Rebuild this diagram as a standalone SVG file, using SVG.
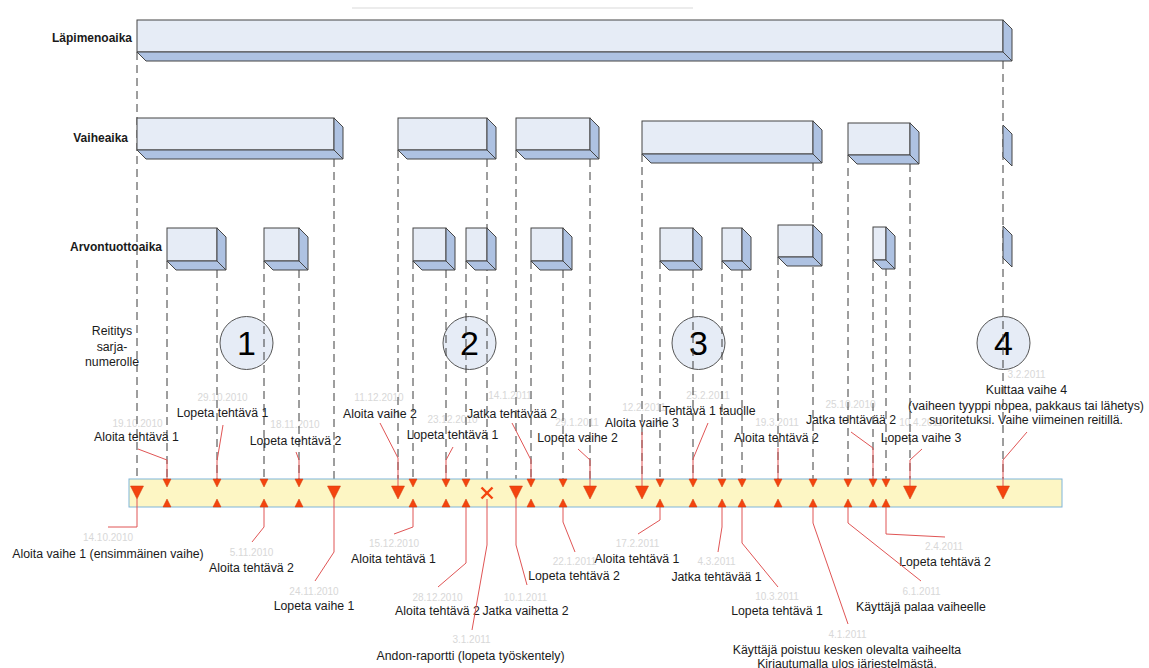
<svg xmlns="http://www.w3.org/2000/svg" width="1149" height="668" viewBox="0 0 1149 668">
  <style>
    text { font-family: "Liberation Sans", Arial, sans-serif; }
    .row { font-size: 12px; font-weight: bold; fill: #1a1a1a; text-anchor: end; }
    .lbl { font-size: 12.3px; fill: #1a1a1a; text-anchor: middle; }
    .dt { font-size: 10px; fill: #d8d8d8; text-anchor: middle; }
    .num { font-size: 34px; fill: #000; text-anchor: middle; }
    .front { fill: #e6ecf6; stroke: #454545; stroke-width: 1; }
    .shade { fill: #aec2e2; stroke: #454545; stroke-width: 1; stroke-linejoin: round; }
    .circ { fill: #e6ecf6; stroke: #555; stroke-width: 1; }
    .dash { stroke: #3c3c3c; stroke-width: 1; stroke-dasharray: 8 5; fill: none; }
    .lead { stroke: #e05555; stroke-width: 1; fill: none; }
    .mk { fill: #f4440f; stroke: #d03505; stroke-width: 0.5; }
    .x { stroke: #f4440f; stroke-width: 2.4; fill: none; }
  </style>

  <!-- thin rule at the top -->
  <line x1="352" y1="8" x2="693" y2="8" stroke="#e6e6e6" stroke-width="1.5"/>

  <!-- row titles -->
  <g id="row-titles">
    <text class="row" x="132" y="41.5">Läpimenoaika</text>
    <text class="row" x="128" y="141.5">Vaiheaika</text>
    <text class="row" x="162" y="250.5">Arvontuottoaika</text>
    <text class="lbl" x="112" y="335">Reititys</text>
    <text class="lbl" x="112" y="351">sarja-</text>
    <text class="lbl" x="112" y="366">numerolle</text>
  </g>

  <!-- phase circles -->
  <g id="phase-1"><circle class="circ" cx="246.5" cy="343" r="26.5"/><text class="num" x="246.5" y="354.5">1</text></g>
  <g id="phase-2"><circle class="circ" cx="469.5" cy="343" r="26.5"/><text class="num" x="469.5" y="354.5">2</text></g>
  <g id="phase-3"><circle class="circ" cx="698.5" cy="343" r="26.5"/><text class="num" x="698.5" y="354.5">3</text></g>
  <g id="phase-4"><circle class="circ" cx="1003.5" cy="343" r="26.5"/><text class="num" x="1003.5" y="354.5">4</text></g>

  <!-- event labels and dates -->
  <g id="event-labels">
    <!-- above the timeline -->
    <text class="dt" x="137.5" y="426.5">19.10.2010</text>
    <text class="lbl" x="136.5" y="441">Aloita tehtävä 1</text>
    <text class="dt" x="222.5" y="400.5">29.10.2010</text>
    <text class="lbl" x="222.5" y="416.5">Lopeta tehtävä 1</text>
    <text class="dt" x="295" y="427.5">18.11.2010</text>
    <text class="lbl" x="295.5" y="444.5">Lopeta tehtävä 2</text>
    <text class="dt" x="379" y="400.5">11.12.2010</text>
    <text class="lbl" x="380" y="417.5">Aloita vaihe 2</text>
    <text class="dt" x="452.5" y="422.5">23.12.2010</text>
    <text class="lbl" x="452.5" y="438.5">Lopeta tehtävä 1</text>
    <text class="dt" x="510" y="398.5">14.1.2011</text>
    <text class="lbl" x="512" y="417.5">Jatka tehtävää 2</text>
    <text class="dt" x="577" y="425.5">29.1.2011</text>
    <text class="lbl" x="577.5" y="441.5">Lopeta vaihe 2</text>
    <text class="dt" x="644" y="410.5">12.2.2011</text>
    <text class="lbl" x="642" y="426.5">Aloita vaihe 3</text>
    <text class="dt" x="708" y="398.5">25.2.2011</text>
    <text class="lbl" x="709" y="414.5">Tehtävä 1 tauolle</text>
    <text class="dt" x="777" y="425.5">19.3.2011</text>
    <text class="lbl" x="776.5" y="441.5">Aloita tehtävä 2</text>
    <text class="dt" x="850.5" y="407.5">25.10.2010</text>
    <text class="lbl" x="851" y="423.5">Jatka tehtävää 2</text>
    <text class="dt" x="921" y="425.5">10.4.2011</text>
    <text class="lbl" x="921" y="441.5">Lopeta vaihe 3</text>
    <text class="dt" x="1026.5" y="377.5">3.2.2011</text>
    <text class="lbl" x="1026.5" y="393.5">Kuittaa vaihe 4</text>
    <text class="lbl" x="1026" y="409.5">(vaiheen tyyppi nopea, pakkaus tai lähetys)</text>
    <text class="lbl" x="1026" y="423.5">suoritetuksi. Vaihe viimeinen reitillä.</text>
    <!-- below the timeline -->
    <text class="dt" x="108" y="540.5">14.10.2010</text>
    <text class="lbl" x="108" y="557.5">Aloita vaihe 1 (ensimmäinen vaihe)</text>
    <text class="dt" x="251.5" y="555.5">5.11.2010</text>
    <text class="lbl" x="251.5" y="571.5">Aloita tehtävä 2</text>
    <text class="dt" x="314" y="594.5">24.11.2010</text>
    <text class="lbl" x="314" y="609.5">Lopeta vaihe 1</text>
    <text class="dt" x="394" y="546.5">15.12.2010</text>
    <text class="lbl" x="393.5" y="562.5">Aloita tehtävä 1</text>
    <text class="dt" x="437.5" y="600.5">28.12.2010</text>
    <text class="lbl" x="437.5" y="614.5">Aloita tehtävä 2</text>
    <text class="dt" x="471.5" y="642.5">3.1.2011</text>
    <text class="lbl" x="470.5" y="659.5">Andon-raportti (lopeta työskentely)</text>
    <text class="dt" x="525.5" y="600.5">10.1.2011</text>
    <text class="lbl" x="525.5" y="614.5">Jatka vaihetta 2</text>
    <text class="dt" x="574.5" y="564.5">22.1.2011</text>
    <text class="lbl" x="574" y="579.5">Lopeta tehtävä 2</text>
    <text class="dt" x="637.5" y="546.5">17.2.2011</text>
    <text class="lbl" x="637" y="562.5">Aloita tehtävä 1</text>
    <text class="dt" x="716.5" y="564.5">4.3.2011</text>
    <text class="lbl" x="716.5" y="580.5">Jatka tehtävää 1</text>
    <text class="dt" x="777" y="599.5">10.3.2011</text>
    <text class="lbl" x="777" y="614.5">Lopeta tehtävä 1</text>
    <text class="dt" x="847.5" y="637.5">4.1.2011</text>
    <text class="lbl" x="847" y="653.5">Käyttäjä poistuu kesken olevalta vaiheelta</text>
    <text class="lbl" x="847" y="668">Kirjautumalla ulos järjestelmästä.</text>
    <text class="dt" x="921.5" y="594.5">6.1.2011</text>
    <text class="lbl" x="921" y="610.5">Käyttäjä palaa vaiheelle</text>
    <text class="dt" x="944" y="549.5">2.4.2011</text>
    <text class="lbl" x="945" y="565.5">Lopeta tehtävä 2</text>
  </g>

  <!-- connectors: dashed drop lines from the bars to the timeline -->
  <g id="connectors">
    <g class="dash">
      <line x1="137" y1="52" x2="137" y2="486"/>
      <line x1="1003" y1="61" x2="1003" y2="486"/>
      <line x1="334" y1="159" x2="334" y2="486"/>
      <line x1="398" y1="150" x2="398" y2="486"/>
      <line x1="487" y1="159" x2="487" y2="479"/>
      <line x1="516" y1="150" x2="516" y2="486"/>
      <line x1="590" y1="159" x2="590" y2="486"/>
      <line x1="642" y1="154" x2="642" y2="486"/>
      <line x1="813" y1="163" x2="813" y2="479"/>
      <line x1="848" y1="155" x2="848" y2="479"/>
      <line x1="910" y1="164" x2="910" y2="486"/>
      <line x1="167" y1="261" x2="167" y2="479"/>
      <line x1="217" y1="270" x2="217" y2="479"/>
      <line x1="264" y1="261" x2="264" y2="479"/>
      <line x1="299" y1="270" x2="299" y2="479"/>
      <line x1="413" y1="261" x2="413" y2="479"/>
      <line x1="446" y1="270" x2="446" y2="479"/>
      <line x1="466" y1="261" x2="466" y2="479"/>
      <line x1="531" y1="261" x2="531" y2="479"/>
      <line x1="563" y1="270" x2="563" y2="479"/>
      <line x1="660" y1="261" x2="660" y2="479"/>
      <line x1="693" y1="270" x2="693" y2="479"/>
      <line x1="722" y1="261" x2="722" y2="479"/>
      <line x1="742" y1="270" x2="742" y2="479"/>
      <line x1="778" y1="257" x2="778" y2="479"/>
      <line x1="873" y1="260" x2="873" y2="479"/>
      <line x1="886" y1="268" x2="886" y2="479"/>
    </g>
  </g>

  <!-- throughput bar -->
  <g id="lapimenoaika">
    <rect class="front" x="137" y="20" width="866" height="32"/>
    <polygon class="shade" points="137,52 1003,52 1012,61 146,61"/>
    <polygon class="shade" points="1003,20 1012,29 1012,61 1003,52"/>
  </g>

  <!-- phase bars -->
  <g id="vaihe-1">
    <rect class="front" x="137" y="118" width="197" height="32"/>
    <polygon class="shade" points="137,150 334,150 343,159 146,159"/>
    <polygon class="shade" points="334,118 343,127 343,159 334,150"/>
  </g>
  <g id="vaihe-2">
    <rect class="front" x="398" y="118" width="89" height="32"/>
    <polygon class="shade" points="398,150 487,150 496,159 407,159"/>
    <polygon class="shade" points="487,118 496,127 496,159 487,150"/>
  </g>
  <g id="vaihe-2b">
    <rect class="front" x="516" y="118" width="74" height="32"/>
    <polygon class="shade" points="516,150 590,150 599,159 525,159"/>
    <polygon class="shade" points="590,118 599,127 599,159 590,150"/>
  </g>
  <g id="vaihe-3">
    <rect class="front" x="642" y="121" width="171" height="33"/>
    <polygon class="shade" points="642,154 813,154 822,163 651,163"/>
    <polygon class="shade" points="813,121 822,130 822,163 813,154"/>
  </g>
  <g id="vaihe-3b">
    <rect class="front" x="848" y="123" width="62" height="32"/>
    <polygon class="shade" points="848,155 910,155 919,164 857,164"/>
    <polygon class="shade" points="910,123 919,132 919,164 910,155"/>
  </g>
  <g id="vaihe-4">
    <polygon class="shade" points="1003,125 1012,134 1012,166 1003,157"/>
  </g>

  <!-- value-adding task boxes -->
  <g id="tehtava-1a">
    <rect class="front" x="167" y="228" width="50" height="33"/>
    <polygon class="shade" points="167,261 217,261 226,270 176,270"/>
    <polygon class="shade" points="217,228 226,237 226,270 217,261"/>
  </g>
  <g id="tehtava-1b">
    <rect class="front" x="264" y="228" width="35" height="33"/>
    <polygon class="shade" points="264,261 299,261 308,270 273,270"/>
    <polygon class="shade" points="299,228 308,237 308,270 299,261"/>
  </g>
  <g id="tehtava-2a">
    <rect class="front" x="413" y="228" width="33" height="33"/>
    <polygon class="shade" points="413,261 446,261 455,270 422,270"/>
    <polygon class="shade" points="446,228 455,237 455,270 446,261"/>
  </g>
  <g id="tehtava-2b">
    <rect class="front" x="466" y="228" width="21" height="33"/>
    <polygon class="shade" points="466,261 487,261 496,270 475,270"/>
    <polygon class="shade" points="487,228 496,237 496,270 487,261"/>
  </g>
  <g id="tehtava-2c">
    <rect class="front" x="531" y="228" width="32" height="33"/>
    <polygon class="shade" points="531,261 563,261 572,270 540,270"/>
    <polygon class="shade" points="563,228 572,237 572,270 563,261"/>
  </g>
  <g id="tehtava-3a">
    <rect class="front" x="660" y="228" width="33" height="33"/>
    <polygon class="shade" points="660,261 693,261 702,270 669,270"/>
    <polygon class="shade" points="693,228 702,237 702,270 693,261"/>
  </g>
  <g id="tehtava-3b">
    <rect class="front" x="722" y="228" width="20" height="33"/>
    <polygon class="shade" points="722,261 742,261 751,270 731,270"/>
    <polygon class="shade" points="742,228 751,237 751,270 742,261"/>
  </g>
  <g id="tehtava-3c">
    <rect class="front" x="778" y="225" width="35" height="32"/>
    <polygon class="shade" points="778,257 813,257 822,266 787,266"/>
    <polygon class="shade" points="813,225 822,234 822,266 813,257"/>
  </g>
  <g id="tehtava-3d">
    <rect class="front" x="873" y="227" width="13" height="33"/>
    <polygon class="shade" points="873,260 886,260 895,269 882,269"/>
    <polygon class="shade" points="886,227 895,236 895,269 886,260"/>
  </g>
  <g id="tehtava-4">
    <polygon class="shade" points="1003,226 1012,235 1012,267 1003,258"/>
  </g>

  <!-- timeline band -->
  <g id="timeline">
    <rect x="129" y="479" width="933" height="28" fill="#fdf6c4" stroke="#7fb5da" stroke-width="1"/>
  </g>

  <!-- callout leaders -->
  <g id="leaders" class="lead">
    <polyline points="138,449 167,460 167,479"/>
    <polyline points="223,425 217,461 217,479"/>
    <polyline points="296,452 299,460 299,479"/>
    <polyline points="380,423 398,458 398,486"/>
    <polyline points="453,447 446,460 446,479"/>
    <polyline points="512,423 531,460 531,479"/>
    <polyline points="578,449 590,460 590,486"/>
    <polyline points="642,432 642,486"/>
    <polyline points="708,423 693,459 693,479"/>
    <polyline points="778,448 778,479"/>
    <polyline points="851,432 873,448 873,479"/>
    <polyline points="922,449 910,460 910,486"/>
    <polyline points="1027,432 1003,460 1003,486"/>

    <polyline points="137,499 137,527 108,527"/>
    <polyline points="264,507 264,527 252,542"/>
    <polyline points="334,499 334,552 315,581"/>
    <polyline points="413,507 413,527 394,534"/>
    <polyline points="466,507 466,563 438,587"/>
    <polyline points="487,499 487,545 472,630"/>
    <polyline points="516,499 516,545 527,585"/>
    <polyline points="563,507 563,522 575,552"/>
    <polyline points="660,507 660,520 638,534"/>
    <polyline points="722,507 722,527 718,552"/>
    <polyline points="742,507 742,543 778,587"/>
    <polyline points="813,507 813,523 848,624"/>
    <polyline points="848,507 848,523 921,581"/>
    <polyline points="886,507 886,534 945,537"/>
  </g>

  <!-- event markers -->
  <g id="markers" class="mk">
    <!-- phase events -->
    <polygon points="130.5,486 143.5,486 137,499"/>
    <polygon points="327.5,486 340.5,486 334,499"/>
    <polygon points="391.5,486 404.5,486 398,499"/>
    <polygon points="509.5,486 522.5,486 516,499"/>
    <polygon points="583.5,486 596.5,486 590,499"/>
    <polygon points="635.5,486 648.5,486 642,499"/>
    <polygon points="903.5,486 916.5,486 910,499"/>
    <polygon points="996.5,486 1009.5,486 1003,499"/>
    <!-- task events: pairs of small triangles -->
    <polygon points="163,479 171,479 167,487"/><polygon points="163,507 171,507 167,499"/>
    <polygon points="213,479 221,479 217,487"/><polygon points="213,507 221,507 217,499"/>
    <polygon points="260,479 268,479 264,487"/><polygon points="260,507 268,507 264,499"/>
    <polygon points="295,479 303,479 299,487"/><polygon points="295,507 303,507 299,499"/>
    <polygon points="409,479 417,479 413,487"/><polygon points="409,507 417,507 413,499"/>
    <polygon points="442,479 450,479 446,487"/><polygon points="442,507 450,507 446,499"/>
    <polygon points="462,479 470,479 466,487"/><polygon points="462,507 470,507 466,499"/>
    <polygon points="527,479 535,479 531,487"/><polygon points="527,507 535,507 531,499"/>
    <polygon points="559,479 567,479 563,487"/><polygon points="559,507 567,507 563,499"/>
    <polygon points="656,479 664,479 660,487"/><polygon points="656,507 664,507 660,499"/>
    <polygon points="689,479 697,479 693,487"/><polygon points="689,507 697,507 693,499"/>
    <polygon points="718,479 726,479 722,487"/><polygon points="718,507 726,507 722,499"/>
    <polygon points="738,479 746,479 742,487"/><polygon points="738,507 746,507 742,499"/>
    <polygon points="774,479 782,479 778,487"/><polygon points="774,507 782,507 778,499"/>
    <polygon points="809,479 817,479 813,487"/><polygon points="809,507 817,507 813,499"/>
    <polygon points="844,479 852,479 848,487"/><polygon points="844,507 852,507 848,499"/>
    <polygon points="869,479 877,479 873,487"/><polygon points="869,507 877,507 873,499"/>
    <polygon points="882,479 890,479 886,487"/><polygon points="882,507 890,507 886,499"/>
  </g>
  <!-- andon stop -->
  <g id="andon" class="x">
    <line x1="481.5" y1="487.5" x2="492.5" y2="498.5"/>
    <line x1="492.5" y1="487.5" x2="481.5" y2="498.5"/>
  </g>
</svg>
